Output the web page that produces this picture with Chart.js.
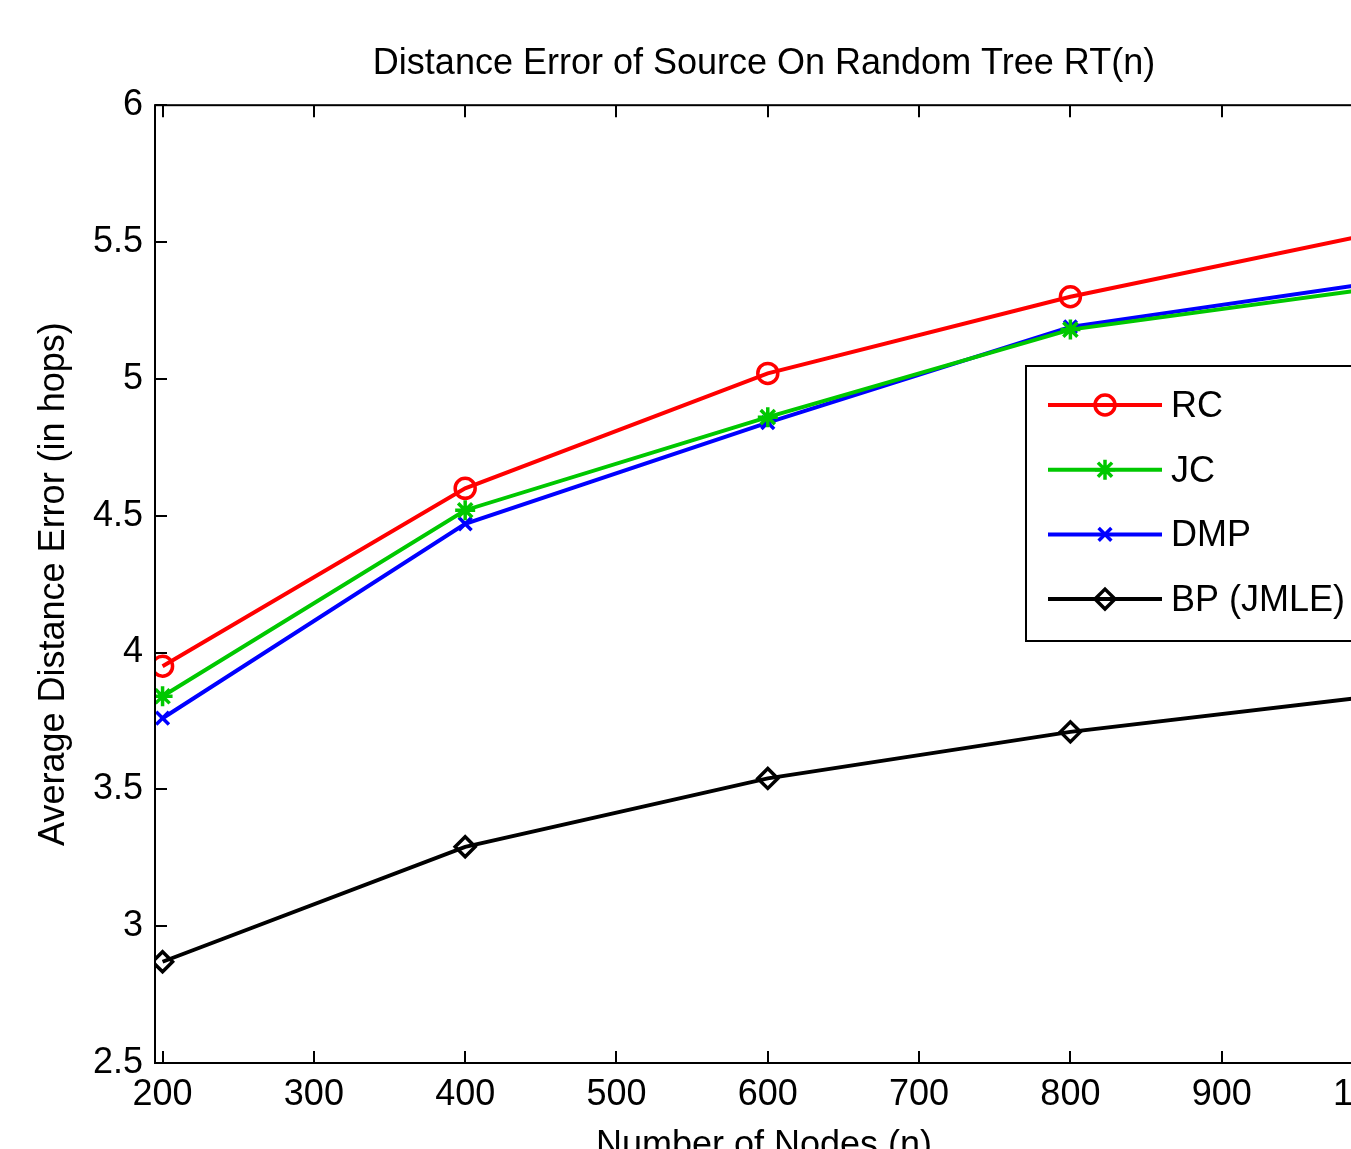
<!DOCTYPE html>
<html>
<head>
<meta charset="utf-8">
<script src="https://cdn.jsdelivr.net/npm/chart.js@4/dist/chart.umd.min.js"></script>
<style>
  html, body { margin: 0; padding: 0; background: #fff; overflow: hidden; }
  #wrap { position: absolute; left: 0; top: 0; width: 1528px; height: 1200px; }
</style>
</head>
<body>
<div id="wrap"><canvas id="c" width="1528" height="1200"></canvas></div>
<script>
// ---- data ----
const nodes = [200, 400, 600, 800, 1000];
const rcValues  = [3.95, 4.60, 5.02, 5.30, 5.53];
const jcValues  = [3.84, 4.52, 4.86, 5.18, 5.33];
const dmpValues = [3.76, 4.47, 4.84, 5.19, 5.35];
const bpValues  = [2.87, 3.29, 3.54, 3.71, 3.84];
const seriesLabels = ['RC', 'JC', 'DMP', 'BP (JMLE)'];
const xTickValues = [200, 300, 400, 500, 600, 700, 800, 900, 1000];
const yTickValues = [2.5, 3, 3.5, 4, 4.5, 5, 5.5, 6];
const yTickLabels = ['2.5', '3', '3.5', '4', '4.5', '5', '5.5', '6'];
const chartTitle = 'Distance Error of Source On Random Tree RT(n)';
const xTitle = 'Number of Nodes (n)';
const yTitle = 'Average Distance Error (in hops)';

const FONT = '"Liberation Sans", Arial, sans-serif';

function pts(vals) { return nodes.map((x, i) => ({ x: x, y: vals[i] })); }

function ds(label, vals, color, style, radius) {
  return {
    label: label,
    data: pts(vals),
    borderColor: color,
    backgroundColor: color,
    borderWidth: 4,
    pointStyle: style,
    pointRadius: radius,
    pointHoverRadius: radius,
    pointBorderColor: color,
    pointBackgroundColor: 'rgba(0,0,0,0)',
    pointBorderWidth: 3.5,
    tension: 0,
    fill: false
  };
}

const datasets = [
  ds(seriesLabels[0], rcValues, '#ff0000', 'circle', 10),
  ds(seriesLabels[1], jcValues, '#00c800', 'star', 10),
  ds(seriesLabels[2], dmpValues, '#0000ff', 'crossRot', 9),
  ds(seriesLabels[3], bpValues, '#000000', 'rectRot', 10)
];

const framePlugin = {
  id: 'frame',
  afterDatasetsDraw(chart) {
    const ctx = chart.ctx;
    const a = chart.chartArea;
    const xs = chart.scales.x, ys = chart.scales.y;
    ctx.save();
    ctx.strokeStyle = '#000';
    ctx.lineWidth = 2;
    ctx.strokeRect(a.left, a.top, a.right - a.left, a.bottom - a.top);
    ctx.lineWidth = 2;
    ctx.beginPath();
    xs.ticks.forEach(t => {
      const px = Math.round(xs.getPixelForValue(t.value));
      ctx.moveTo(px, a.bottom); ctx.lineTo(px, a.bottom - 12);
      ctx.moveTo(px, a.top); ctx.lineTo(px, a.top + 12);
    });
    ys.ticks.forEach(t => {
      const py = Math.round(ys.getPixelForValue(t.value));
      ctx.moveTo(a.left, py); ctx.lineTo(a.left + 12, py);
      ctx.moveTo(a.right, py); ctx.lineTo(a.right - 12, py);
    });
    ctx.stroke();

    // legend (inside the axes, MATLAB style)
    const lx = 1026, ly = 366, lw = 340, lh = 275;
    ctx.fillStyle = '#fff';
    ctx.fillRect(lx, ly, lw, lh);
    ctx.lineWidth = 2;
    ctx.strokeStyle = '#000';
    ctx.strokeRect(lx, ly, lw, lh);
    chart.data.datasets.forEach((d, i) => {
      const cy = 405 + i * 64.7;
      ctx.strokeStyle = d.borderColor;
      ctx.lineWidth = d.borderWidth;
      ctx.beginPath();
      ctx.moveTo(1048, cy); ctx.lineTo(1162, cy);
      ctx.stroke();
      ctx.lineWidth = d.pointBorderWidth;
      ctx.fillStyle = d.pointBackgroundColor;
      Chart.helpers.drawPoint(ctx, { pointStyle: d.pointStyle, radius: d.pointRadius, borderWidth: d.pointBorderWidth, rotation: 0 }, 1105, cy);
      ctx.fillStyle = '#000';
      ctx.font = '36px ' + FONT;
      ctx.textAlign = 'left';
      ctx.textBaseline = 'middle';
      ctx.fillText(d.label, 1171, cy + 2);
    });
    ctx.restore();
  }
};

new Chart(document.getElementById('c'), {
  type: 'line',
  data: { datasets: datasets },
  plugins: [framePlugin],
  options: {
    responsive: false,
    devicePixelRatio: 1,
    animation: false,
    layout: { padding: { left: 0, right: 155, top: 0, bottom: 0 } },
    plugins: {
      legend: { display: false },
      tooltip: { enabled: false },
      title: {
        display: true,
        fullSize: false,
        text: chartTitle,
        color: '#000',
        font: { family: FONT, size: 36, weight: 'normal' },
        padding: { top: 42, bottom: 20 }
      }
    },
    scales: {
      x: {
        type: 'linear',
        min: 195,
        max: 1000,
        afterBuildTicks: s => { s.ticks = xTickValues.map(v => ({ value: v })); },
        afterFit: s => { s.height = 137; },
        grid: { display: false, drawTicks: false },
        border: { display: false },
        ticks: {
          color: '#000',
          font: { family: FONT, size: 36 },
          padding: 10,
          maxRotation: 0,
          autoSkip: false,
          callback: v => String(v)
        },
        title: {
          display: true,
          text: xTitle,
          color: '#000',
          font: { family: FONT, size: 36 },
          padding: { top: 0, bottom: 32 }
        }
      },
      y: {
        type: 'linear',
        min: 2.5,
        max: 6,
        afterBuildTicks: s => { s.ticks = yTickValues.map(v => ({ value: v })); },
        afterFit: s => { s.width = 155; },
        grid: { display: false, drawTicks: false },
        border: { display: false },
        ticks: {
          color: '#000',
          font: { family: FONT, size: 36 },
          padding: 12,
          autoSkip: false,
          callback: (v, i) => yTickLabels[i]
        },
        title: {
          display: true,
          text: yTitle,
          color: '#000',
          font: { family: FONT, size: 36 },
          padding: { top: 32, bottom: 0 }
        }
      }
    }
  }
});
</script>
</body>
</html>
